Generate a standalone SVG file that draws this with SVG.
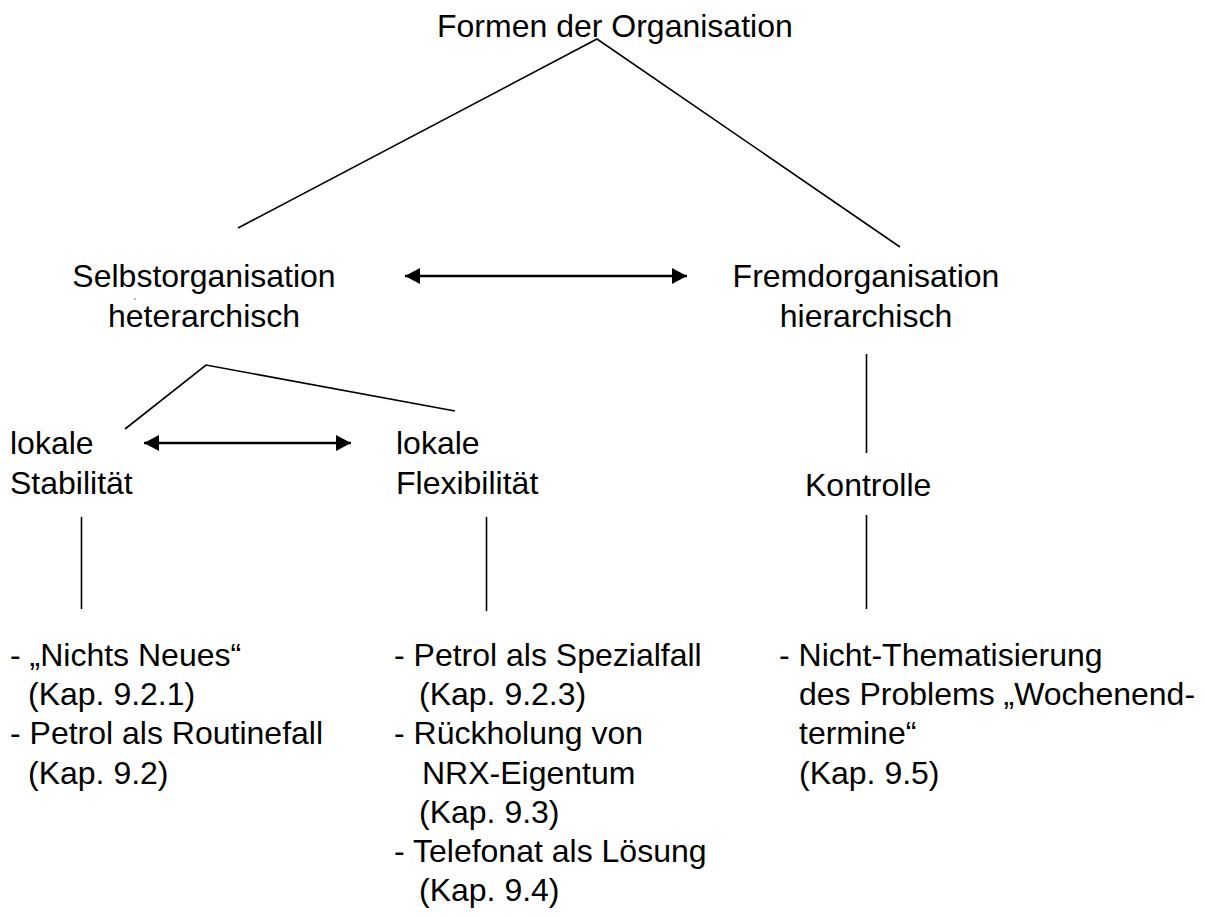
<svg xmlns="http://www.w3.org/2000/svg" width="1205" height="916" viewBox="0 0 1205 916">
  <defs>
    <style>
      text { font-family: "Liberation Sans", Arial, sans-serif; font-size: 32px; fill: #000; }
      .mid { text-anchor: middle; }
      .edge { stroke: #000; stroke-width: 1.6; fill: none; }
      .rel { stroke: #000; stroke-width: 2.4; fill: none; }
    </style>
    <marker id="head" viewBox="0 0 15 16" refX="15" refY="8" markerWidth="15" markerHeight="16" markerUnits="userSpaceOnUse" orient="auto-start-reverse">
      <path d="M0,0 L15,8 L0,16 Z" fill="#000"/>
    </marker>
  </defs>
  <rect width="1205" height="916" fill="#fff"/>

  <!-- connectors -->
  <g id="connectors">
    <polyline class="edge" points="238,228 597,39 900,247"/>
    <polyline class="edge" points="125,429 206,365 455,411"/>
    <line class="edge" x1="866.5" y1="354" x2="866.5" y2="453"/>
    <line class="edge" x1="866.5" y1="515" x2="866.5" y2="609"/>
    <line class="edge" x1="81.5" y1="517" x2="81.5" y2="609"/>
    <line class="edge" x1="486.5" y1="517" x2="486.5" y2="611"/>
    <line class="rel" x1="405" y1="276" x2="687" y2="276" marker-start="url(#head)" marker-end="url(#head)"/>
    <line class="rel" x1="144" y1="443" x2="351" y2="443" marker-start="url(#head)" marker-end="url(#head)"/>
  </g>

  <g id="root">
    <text x="437" y="37">Formen der Organisation</text>
  </g>

  <g id="selbstorganisation">
    <text class="mid" x="204" y="287">Selbstorganisation</text>
    <text class="mid" x="204" y="327">heterarchisch</text>
  </g>
  <circle cx="135" cy="299" r="0.8" fill="#666"/>

  <g id="fremdorganisation">
    <text class="mid" x="866" y="287">Fremdorganisation</text>
    <text class="mid" x="866" y="327">hierarchisch</text>
  </g>

  <g id="stabilitaet">
    <text x="10" y="454">lokale</text>
    <text x="10" y="494">Stabilität</text>
  </g>

  <g id="flexibilitaet">
    <text x="396" y="454">lokale</text>
    <text x="396" y="494">Flexibilität</text>
  </g>

  <g id="kontrolle">
    <text x="805" y="496">Kontrolle</text>
  </g>

  <g id="faelle-stabilitaet">
    <text x="10" y="666">- „Nichts Neues“</text>
    <text x="28" y="705">(Kap. 9.2.1)</text>
    <text x="10" y="744">- Petrol als Routinefall</text>
    <text x="28" y="784">(Kap. 9.2)</text>
  </g>

  <g id="faelle-flexibilitaet">
    <text x="394" y="666">- Petrol als Spezialfall</text>
    <text x="419" y="705">(Kap. 9.2.3)</text>
    <text x="394" y="744">- Rückholung von</text>
    <text x="422" y="784">NRX-Eigentum</text>
    <text x="419" y="823">(Kap. 9.3)</text>
    <text x="394" y="862">- Telefonat als Lösung</text>
    <text x="419" y="901">(Kap. 9.4)</text>
  </g>

  <g id="faelle-kontrolle">
    <text x="779" y="666">- Nicht-Thematisierung</text>
    <text x="799" y="705">des Problems „Wochenend-</text>
    <text x="799" y="744">termine“</text>
    <text x="799" y="784">(Kap. 9.5)</text>
  </g>
</svg>
